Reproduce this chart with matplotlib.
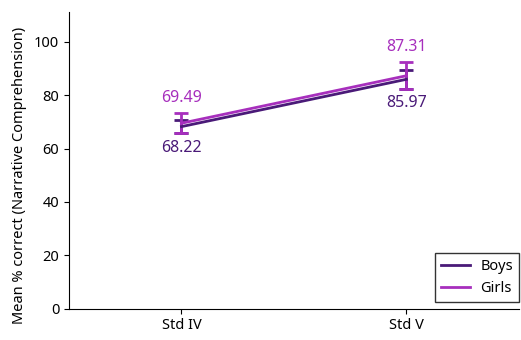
import matplotlib.pyplot as plt
from matplotlib.lines import Line2D

# Narrative comprehension scores by grade and gender
grades = ["Std IV", "Std V"]
boys_mean = [68.22, 85.97]
girls_mean = [69.49, 87.31]
boys_err = [2.5, 3.5]
girls_err = [3.8, 5.0]

boys_color = "#4a1a78"
girls_color = "#a72fbd"

plt.rcParams["font.family"] = ["Noto Sans", "DejaVu Sans"]

fig = plt.figure(figsize=(5.21, 3.4), dpi=100)
ax = fig.add_axes([0.1324, 0.0926, 0.8636, 0.872])

x = list(range(len(grades)))
ax.errorbar(x, boys_mean, yerr=boys_err, color=boys_color, lw=2,
            capsize=5, capthick=2, elinewidth=2)
ax.errorbar(x, girls_mean, yerr=girls_err, color=girls_color, lw=2,
            capsize=5, capthick=2, elinewidth=2)

# value labels: girls above the bar, boys below
for xi, b, g, be, ge in zip(x, boys_mean, girls_mean, boys_err, girls_err):
    ax.text(xi, g + ge + 2.6, f"{g:.2f}", color=girls_color, ha="center",
            va="bottom", fontsize=11.5)
    ax.text(xi, b - be - 2.5, f"{b:.2f}", color=boys_color, ha="center",
            va="top", fontsize=11.5)

ax.set_xlim(-0.5, 1.5)
ax.set_ylim(0, 111.2)
ax.set_xticks(x)
ax.set_xticklabels(grades, fontsize=10.5)
ax.set_yticks(range(0, 101, 20))
ax.tick_params(axis="y", labelsize=10.5)
ax.set_ylabel("Mean % correct (Narrative Comprehension)", fontsize=10.5)
ax.yaxis.set_label_coords(-0.093, 0.45)

for side in ["top", "right"]:
    ax.spines[side].set_visible(False)

handles = [Line2D([], [], color=boys_color, lw=2),
           Line2D([], [], color=girls_color, lw=2)]
leg = ax.legend(handles, ["Boys", "Girls"], loc="lower right",
                bbox_to_anchor=(1.0, 0.022), borderaxespad=0,
                fancybox=False, edgecolor="black", fontsize=10.5,
                handlelength=2.0, handletextpad=0.7)
leg.get_frame().set_linewidth(1.0)

fig.savefig("out.png", dpi=100)
